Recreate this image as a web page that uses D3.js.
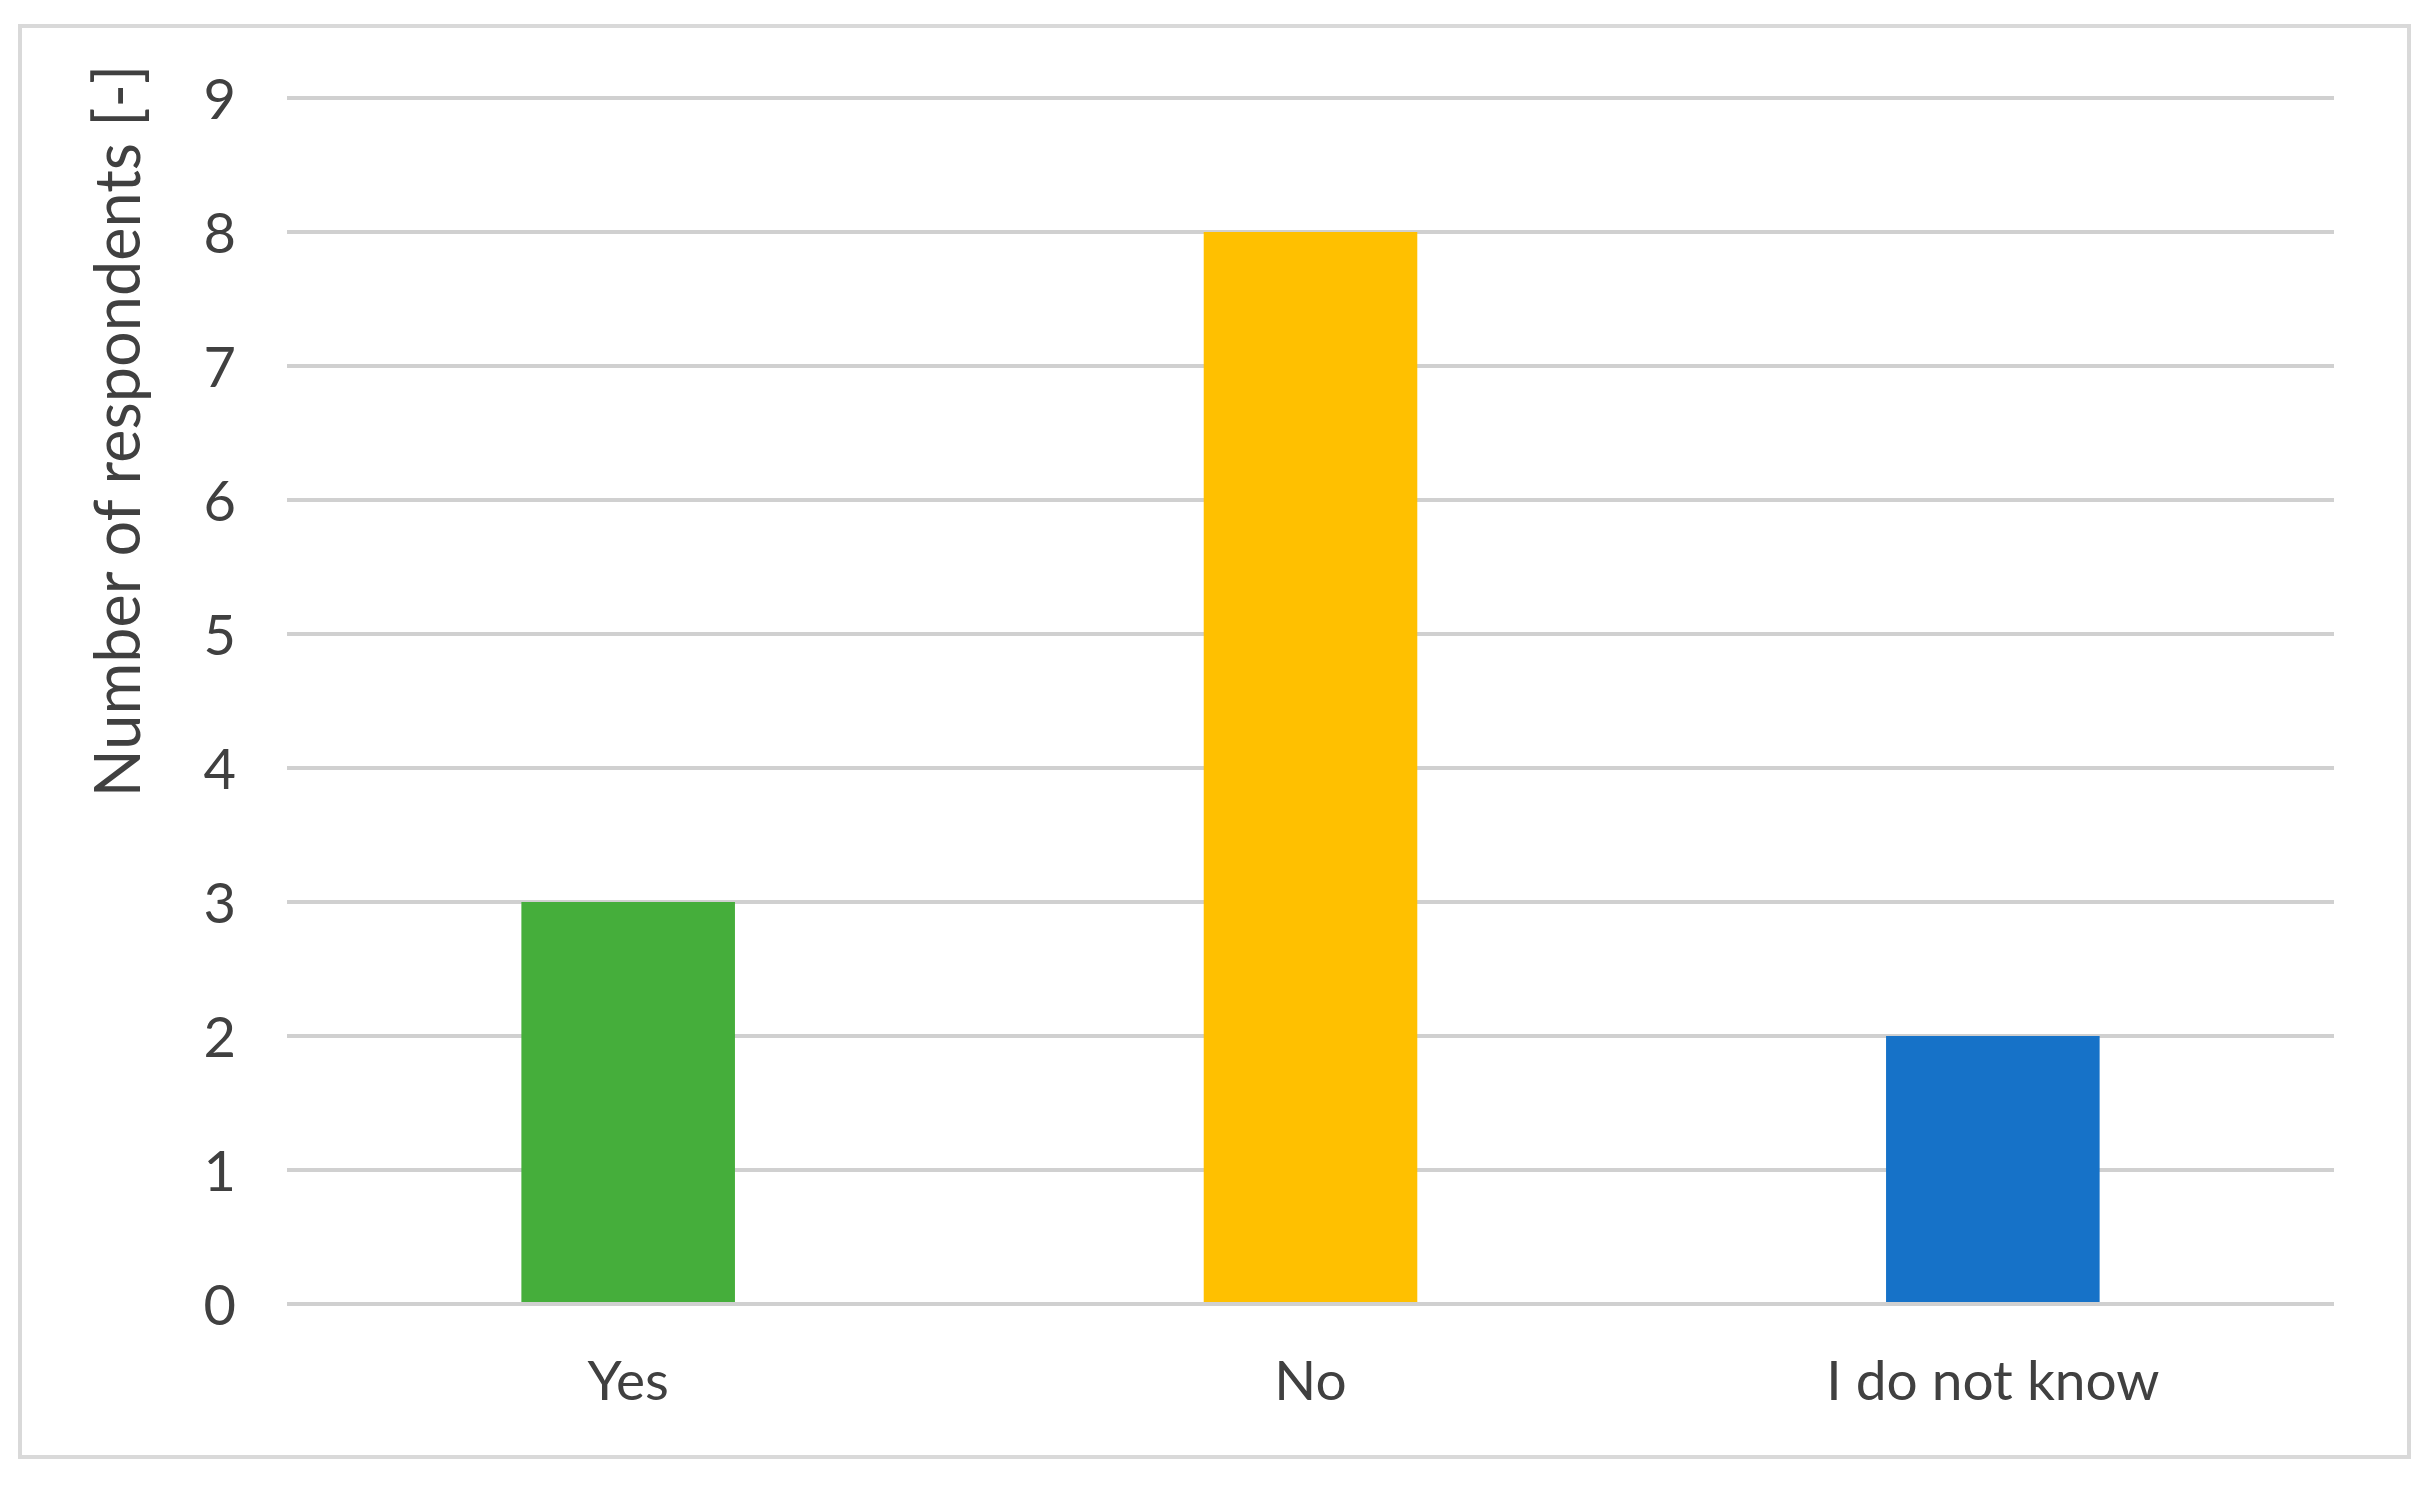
<!DOCTYPE html>
<html>
<head>
<meta charset="utf-8">
<script src="https://cdn.jsdelivr.net/npm/d3@7"></script>
<style>
  body { margin: 0; background: #fff; }
  svg { display: block; }
  .tick text, .cat text, .ytitle { font-family: Lato, "Open Sans", sans-serif; fill: #404040; }
</style>
</head>
<body>
<div id="chart"></div>
<script>
// answers and counts
const categories = ["Yes", "No", "I do not know"];
const counts = [3, 8, 2];
const barColors = ["#45ae3b", "#ffc000", "#1672c8"];
const yTicks = [0, 1, 2, 3, 4, 5, 6, 7, 8, 9];
const yTitle = "Number of respondents [-]";

const outerWidth = 2434, outerHeight = 1494;
const margin = {top: 98, right: 100, bottom: 190, left: 287};
const width = outerWidth - margin.left - margin.right;
const height = 1304 - margin.top;

const svg = d3.select("#chart").append("svg")
    .attr("width", outerWidth)
    .attr("height", outerHeight);

// chart area frame
svg.append("rect")
    .attr("x", 20).attr("y", 26)
    .attr("width", 2389).attr("height", 1431)
    .attr("fill", "#fff")
    .attr("stroke", "#d9d9d9")
    .attr("stroke-width", 4);

const g = svg.append("g")
    .attr("transform", "translate(" + margin.left + "," + margin.top + ")");

const xScale = d3.scaleBand()
    .domain(categories)
    .range([0, width])
    .paddingInner(0.687)
    .paddingOuter(0.3435);
const yScale = d3.scaleLinear()
    .domain([0, 9])
    .range([height, 0]);

// gridlines
g.append("g")
    .attr("class", "grid")
    .selectAll("line")
    .data(yTicks)
    .enter().append("line")
    .attr("x1", 0).attr("x2", width)
    .attr("y1", d => yScale(d)).attr("y2", d => yScale(d))
    .attr("stroke", "#d0d0d0")
    .attr("stroke-width", 4);

// y axis labels
const yAxis = d3.axisLeft(yScale).tickValues(yTicks).tickSize(0).tickPadding(51);
const yG = g.append("g").call(yAxis);
yG.select(".domain").remove();
yG.selectAll(".tick text").attr("font-size", 56).attr("dy", "0.36em");

// bars
g.append("g")
    .selectAll("rect")
    .data(counts)
    .enter().append("rect")
    .attr("x", (d, i) => xScale(categories[i]))
    .attr("y", d => yScale(d))
    .attr("width", xScale.bandwidth())
    .attr("height", d => yScale(0) - yScale(d) - 2)
    .attr("fill", (d, i) => barColors[i]);

// category labels
g.append("g")
    .attr("class", "cat")
    .selectAll("text")
    .data(categories)
    .enter().append("text")
    .attr("x", d => xScale(d) + xScale.bandwidth() / 2)
    .attr("y", height + 96)
    .attr("text-anchor", "middle")
    .attr("font-size", 55)
    .text(d => d);

// y axis title
svg.append("g")
    .attr("transform", "translate(140, 431)")
    .append("text")
    .attr("class", "ytitle")
    .attr("text-anchor", "middle")
    .attr("transform", "rotate(-90)")
    .attr("font-size", 63)
    .text(yTitle);
</script>
</body>
</html>
